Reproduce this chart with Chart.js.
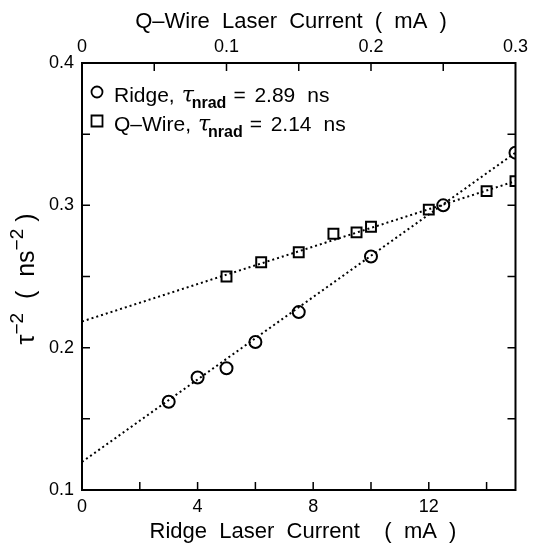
<!DOCTYPE html>
<html>
<head>
<meta charset="utf-8">
<script src="https://cdn.jsdelivr.net/npm/chart.js@4/dist/chart.umd.min.js"></script>
<style>
  html, body { margin: 0; padding: 0; background: #fff; }
  #wrap { width: 533px; height: 553px; }
</style>
</head>
<body>
<div id="wrap"><canvas id="tauChart"></canvas></div>
<script>
// dados
const ridgeCurrent = [3, 4, 5, 6, 7.5, 10, 12.5, 15];
const ridgeTau = [0.162, 0.179, 0.1855, 0.204, 0.225, 0.264, 0.300, 0.337];
const wireCurrent = [0.1, 0.124, 0.15, 0.174, 0.19, 0.2, 0.24, 0.28, 0.3];
const wireTau = [0.250, 0.260, 0.267, 0.280, 0.281, 0.285, 0.297, 0.310, 0.317];

// retas de ajuste (extremos)
const ridgeFitX = [0, 15];
const ridgeFitY = [0.1197, 0.337];
const wireFitX = [0, 0.3];
const wireFitY = [0.2184, 0.317];

// rótulos e marcas dos eixos
const xLabels = [0, 4, 8, 12];
const x2Labels = [0, 0.1, 0.2, 0.3];
const yLabels = [0.1, 0.2, 0.3, 0.4];
const xMarks = [2, 4, 6, 8, 10, 12, 14];
const x2Marks = [0.05, 0.1, 0.15, 0.2, 0.25];
const yMarks = [0.15, 0.2, 0.25, 0.3, 0.35];

const xTitle = 'Ridge  Laser  Current    (  mA  )';
const x2Title = 'Q\u2013Wire  Laser  Current  (  mA  )';

const legendRows = [
  { marker: 'circle', name: 'Ridge,', value: '2.89' },
  { marker: 'rect', name: 'Q\u2013Wire,', value: '2.14' }
];

const FONT = 'Liberation Sans, Arial, Helvetica, sans-serif';

function pts(xs, ys) {
  return xs.map((x, i) => ({ x: x, y: ys[i] }));
}

function onlyLabels(list) {
  return function (v) {
    const hit = list.find(l => Math.abs(l - v) < 1e-6);
    return hit === undefined ? '' : String(hit);
  };
}

// moldura, marcas internas, legenda e títulos
const framePlugin = {
  id: 'frame',
  afterDraw(chart) {
    const c = chart.ctx;
    const a = chart.chartArea;
    const sx = chart.scales.x, sx2 = chart.scales.x2, sy = chart.scales.y;
    const tl = 8;
    c.save();
    c.strokeStyle = '#000';
    c.lineWidth = 2;
    c.strokeRect(a.left, a.top, a.right - a.left, a.bottom - a.top);
    c.lineWidth = 1.5;
    c.beginPath();
    xMarks.forEach(v => {
      const px = sx.getPixelForValue(v);
      c.moveTo(px, a.bottom); c.lineTo(px, a.bottom - tl);
    });
    x2Marks.forEach(v => {
      const px = sx2.getPixelForValue(v);
      c.moveTo(px, a.top); c.lineTo(px, a.top + tl);
    });
    yMarks.forEach(v => {
      const py = sy.getPixelForValue(v);
      c.moveTo(a.left, py); c.lineTo(a.left + tl, py);
      c.moveTo(a.right, py); c.lineTo(a.right - tl, py);
    });
    c.stroke();

    c.fillStyle = '#000';
    c.textBaseline = 'alphabetic';

    // títulos dos eixos x
    c.font = '22px ' + FONT;
    c.textAlign = 'center';
    c.fillText(x2Title, 291, 28);
    c.fillText(xTitle, 303, 538);
    c.textAlign = 'left';

    // legenda
    let y = a.top + 29;
    legendRows.forEach(row => {
      c.lineWidth = 1.8;
      c.beginPath();
      if (row.marker === 'circle') {
        c.arc(a.left + 15, y, 5.5, 0, Math.PI * 2);
      } else {
        c.rect(a.left + 9.5, y - 5.5, 11, 11);
      }
      c.stroke();
      let x = a.left + 32;
      const base = y + 10;
      c.font = '21px ' + FONT;
      c.fillText(row.name, x, base);
      x += c.measureText(row.name).width + 7;
      c.font = 'italic 22px DejaVu Serif, serif';
      c.fillText('\u03c4', x, base);
      x += 10;
      c.font = 'bold 16px ' + FONT;
      c.fillText('nrad', x, base + 6);
      x += c.measureText('nrad').width + 7;
      c.font = '21px ' + FONT;
      c.fillText('=', x, base);
      x += 21;
      c.fillText(row.value, x, base);
      x += c.measureText(row.value).width + 12;
      c.fillText('ns', x, base);
      y += 29;
    });

    // título do eixo y com expoentes
    const parts = [
      { t: '\u03c4', f: '25px ' + FONT, dy: 0 },
      { t: '\u22122', f: '19px ' + FONT, dy: -11 },
      { t: '  (  ns', f: '25px ' + FONT, dy: 0 },
      { t: '\u22122', f: '19px ' + FONT, dy: -11 },
      { t: ' )', f: '25px ' + FONT, dy: 0 }
    ];
    let total = 0;
    parts.forEach(p => { c.font = p.f; p.w = c.measureText(p.t).width; total += p.w; });
    c.translate(34, 279);
    c.rotate(-Math.PI / 2);
    let tx = -total / 2;
    parts.forEach(p => {
      c.font = p.f;
      c.fillText(p.t, tx, p.dy);
      tx += p.w;
    });
    c.restore();
  }
};

const ctx = document.getElementById('tauChart').getContext('2d');
const tauChart = new Chart(ctx, {
  type: 'scatter',
  data: {
    datasets: [
      {
        label: 'Ridge',
        data: pts(ridgeCurrent, ridgeTau),
        xAxisID: 'x',
        pointStyle: 'circle',
        pointRadius: 6,
        borderColor: '#000',
        backgroundColor: 'rgba(0,0,0,0)',
        borderWidth: 2
      },
      {
        label: 'Q-Wire',
        data: pts(wireCurrent, wireTau),
        xAxisID: 'x2',
        pointStyle: 'rect',
        pointRadius: 7,
        borderColor: '#000',
        backgroundColor: 'rgba(0,0,0,0)',
        borderWidth: 2
      },
      {
        type: 'line',
        label: 'ajuste ridge',
        data: pts(ridgeFitX, ridgeFitY),
        xAxisID: 'x',
        borderColor: '#000',
        borderWidth: 2,
        borderDash: [2, 3],
        pointRadius: 0,
        fill: false
      },
      {
        type: 'line',
        label: 'ajuste q-wire',
        data: pts(wireFitX, wireFitY),
        xAxisID: 'x2',
        borderColor: '#000',
        borderWidth: 2,
        borderDash: [2, 3],
        pointRadius: 0,
        fill: false
      }
    ]
  },
  options: {
    responsive: true,
    maintainAspectRatio: false,
    animation: false,
    layout: { padding: 0 },
    plugins: { legend: { display: false }, tooltip: { enabled: false } },
    scales: {
      x: {
        type: 'linear',
        position: 'bottom',
        min: 0, max: 15,
        grid: { display: false, drawTicks: false },
        border: { display: false },
        ticks: {
          stepSize: 2, autoSkip: false, maxRotation: 0, padding: 6,
          color: '#000', font: { family: FONT, size: 18 },
          callback: onlyLabels(xLabels)
        },
        afterFit(s) { s.height = 63; }
      },
      x2: {
        type: 'linear',
        position: 'top',
        min: 0, max: 0.3,
        grid: { display: false, drawTicks: false },
        border: { display: false },
        ticks: {
          stepSize: 0.05, autoSkip: false, maxRotation: 0, padding: 5,
          color: '#000', font: { family: FONT, size: 18 },
          callback: onlyLabels(x2Labels)
        },
        afterFit(s) { s.height = 63; }
      },
      y: {
        type: 'linear',
        position: 'left',
        min: 0.1, max: 0.4,
        grid: { display: false, drawTicks: false },
        border: { display: false },
        ticks: {
          stepSize: 0.05, autoSkip: false, padding: 8,
          color: '#000', font: { family: FONT, size: 18 },
          callback: onlyLabels(yLabels)
        },
        afterFit(s) { s.width = 82; }
      },
      y2: {
        type: 'linear',
        position: 'right',
        min: 0.1, max: 0.4,
        grid: { display: false, drawTicks: false },
        border: { display: false },
        ticks: { display: false },
        afterFit(s) { s.width = 16; }
      }
    }
  },
  plugins: [framePlugin]
});
</script>
</body>
</html>
